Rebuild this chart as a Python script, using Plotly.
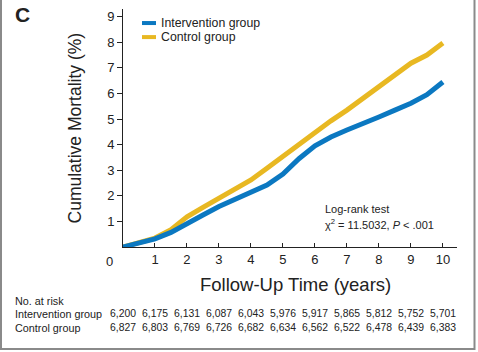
import plotly.graph_objects as go

# Follow-up time (years) and cumulative mortality (%)
time_years = [0, 0.5, 1, 1.5, 2, 2.5, 3, 3.5, 4, 4.5, 5, 5.5, 6, 6.5, 7, 7.5, 8, 8.5, 9, 9.5, 10]
control_mort = [0, 0.15, 0.35, 0.68, 1.18, 1.55, 1.92, 2.25, 2.62, 3.08, 3.55, 4.05, 4.5, 4.93, 5.35, 5.82, 6.28, 6.75, 7.18, 7.5, 7.97]
interv_mort = [0, 0.15, 0.32, 0.57, 0.93, 1.25, 1.58, 1.85, 2.15, 2.42, 2.85, 3.45, 3.95, 4.3, 4.57, 4.85, 5.08, 5.35, 5.62, 5.95, 6.45]

# Number at risk table
risk_years = [0, 1, 2, 3, 4, 5, 6, 7, 8, 9, 10]
interv_risk = ["6,200", "6,175", "6,131", "6,087", "6,043", "5,976", "5,917", "5,865", "5,812", "5,752", "5,701"]
control_risk = ["6,827", "6,803", "6,769", "6,726", "6,682", "6,634", "6,562", "6,522", "6,478", "6,439", "6,383"]

x_ticks = [1, 2, 3, 4, 5, 6, 7, 8, 9, 10]
y_ticks = [1, 2, 3, 4, 5, 6, 7, 8, 9]

BLUE = "#0b78c1"
YELLOW = "#e8b822"
FONT = "Liberation Sans, Arial, sans-serif"
TXT = "#222222"

fig = go.Figure()
fig.add_trace(go.Scatter(x=time_years, y=control_mort, mode="lines",
                         line=dict(color=YELLOW, width=5), cliponaxis=False,
                         name="Control group", showlegend=False))
fig.add_trace(go.Scatter(x=time_years, y=interv_mort, mode="lines",
                         line=dict(color=BLUE, width=5), cliponaxis=False,
                         name="Intervention group", showlegend=False))

annotations = []
shapes = []


def A(text, x, y, size=12, xanchor="center", xref="paper", **kw):
    annotations.append(dict(text=text, x=x, y=y, xref=xref, yref="paper",
                            showarrow=False, xanchor=xanchor, yanchor="middle",
                            font=dict(family=FONT, size=size, color=TXT), **kw))


# panel letter
A("<b>C</b>", -0.302, 0.975, size=21)
# origin label
A("0", -0.039, -0.063, size=13)
# axis titles
A("Cumulative Mortality (%)", -0.1437, 0.498, size=17.5, textangle=-90)
A("Follow-Up Time (years)", 0.5165, -0.1555, size=18.5)
# legend
for yy, col, lab in [(0.941, BLUE, "Intervention group"), (0.882, YELLOW, "Control group")]:
    shapes.append(dict(type="line", xref="paper", yref="paper", x0=0.0569, x1=0.0988,
                       y0=yy, y1=yy, line=dict(color=col, width=4)))
    A(lab, 0.1078, yy, size=12.3, xanchor="left")
# log-rank
A("Log-rank test", 0.5988, 0.160, size=11, xanchor="left")
A("χ<sup>2</sup> = 11.5032, <i>P</i> &lt; .001", 0.5988, 0.0966, size=11, xanchor="left")
# risk table
A("No. at risk", -0.329, -0.227, size=10.8, xanchor="left")
A("Intervention group", -0.329, -0.2815, size=10.8, xanchor="left")
A("Control group", -0.329, -0.340, size=10.8, xanchor="left")
for t, a, b in zip(risk_years, interv_risk, control_risk):
    A(a, t, -0.2815, size=10.4, xref="x")
    A(b, t, -0.340, size=10.4, xref="x")

# outer frame
shapes.append(dict(type="rect", xref="paper", yref="paper", x0=-0.3653, x1=1.0524,
                   y0=-0.4286, y1=1.2, line=dict(color="#8a8a8a", width=2)))

fig.update_layout(
    width=478, height=352,
    margin=dict(l=123, r=21, t=9, b=105),
    paper_bgcolor="white", plot_bgcolor="white",
    annotations=annotations, shapes=shapes,
    xaxis=dict(range=[0, 10.44], tickvals=x_ticks, ticks="inside", ticklen=4,
               tickcolor=TXT, showline=True, linecolor=TXT, linewidth=1,
               showgrid=False, zeroline=False,
               tickfont=dict(family=FONT, size=13, color=TXT)),
    yaxis=dict(range=[0, 9.3], tickvals=y_ticks, ticks="outside", ticklen=5,
               tickcolor=TXT, showline=True, linecolor=TXT, linewidth=1,
               showgrid=False, zeroline=False,
               tickfont=dict(family=FONT, size=13, color=TXT)),
)
fig.write_html("out.html")
